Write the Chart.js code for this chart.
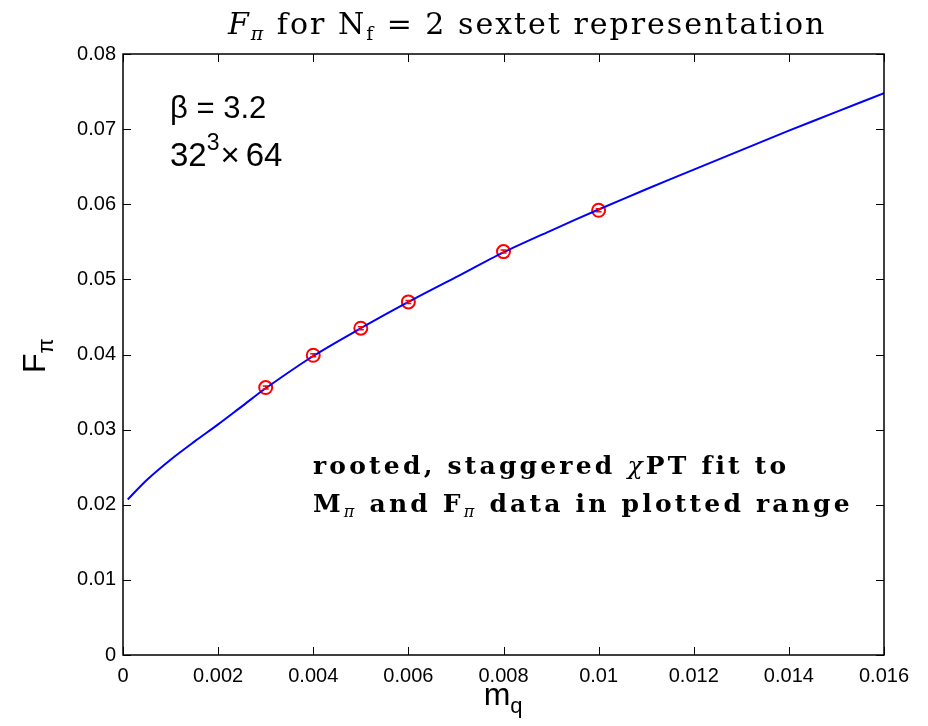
<!DOCTYPE html>
<html>
<head>
<meta charset="utf-8">
<script src="https://cdn.jsdelivr.net/npm/chart.js@4.4.0/dist/chart.umd.min.js"></script>
<style>
  html, body { margin: 0; padding: 0; background: #fff; }
  #wrap { width: 928px; height: 726px; }
</style>
</head>
<body>
<div id="wrap"><canvas id="chart" width="928" height="726"></canvas></div>
<script>
// measured F_pi vs quark mass
const mq = [0.003, 0.004, 0.005, 0.006, 0.008, 0.010];
const fpi = [0.0356, 0.0399, 0.0435, 0.0470, 0.0537, 0.0592];
const fpiErr = [0.0002, 0.0002, 0.0002, 0.0002, 0.0002, 0.0002];

// chiPT fit curve
const fitX = [0.0001, 0.0005, 0.001, 0.0015, 0.002, 0.0025, 0.003, 0.004, 0.005, 0.006,
  0.007, 0.008, 0.009, 0.010, 0.011, 0.012, 0.013, 0.014, 0.015, 0.016];
const fitY = [0.0207, 0.0233, 0.0260, 0.0284, 0.0307, 0.0331, 0.0355, 0.0398, 0.0435, 0.0470,
  0.0503, 0.0536, 0.0565, 0.0593, 0.0620, 0.0646, 0.0672, 0.0698, 0.0723, 0.0748];

const xTicks = [0, 0.002, 0.004, 0.006, 0.008, 0.010, 0.012, 0.014, 0.016];
const yTicks = [0, 0.01, 0.02, 0.03, 0.04, 0.05, 0.06, 0.07, 0.08];

const SANS = "'Liberation Sans', Arial, sans-serif";
const SERIF = "'DejaVu Serif', serif";

// draw a run of text pieces: [text, font, dy]
function richText(ctx, x, y, parts, spacing) {
  let cx = x;
  ctx.letterSpacing = (spacing || 0) + "px";
  for (const p of parts) {
    ctx.font = p[1];
    ctx.fillText(p[0], cx, y + (p[2] || 0));
    cx += ctx.measureText(p[0]).width + (p[3] || 0);
  }
  ctx.letterSpacing = "0px";
  return cx - x;
}

const decor = {
  id: "decor",
  afterDraw(chart) {
    const ctx = chart.ctx;
    const a = chart.chartArea;
    const xs = chart.scales.x, ys = chart.scales.y;
    ctx.save();
    ctx.strokeStyle = "#000";
    ctx.lineWidth = 1.5;
    ctx.strokeRect(a.left, a.top, a.right - a.left, a.bottom - a.top);
    ctx.lineWidth = 1;
    ctx.beginPath();
    for (const v of xTicks) {
      const px = Math.round(xs.getPixelForValue(v)) + 0.5;
      ctx.moveTo(px, a.bottom); ctx.lineTo(px, a.bottom - 8);
      ctx.moveTo(px, a.top); ctx.lineTo(px, a.top + 8);
    }
    for (const v of yTicks) {
      const py = Math.round(ys.getPixelForValue(v)) + 0.5;
      ctx.moveTo(a.left, py); ctx.lineTo(a.left + 8, py);
      ctx.moveTo(a.right, py); ctx.lineTo(a.right - 8, py);
    }
    ctx.stroke();

    // error bars inside markers
    ctx.strokeStyle = "#ff0000";
    ctx.lineWidth = 1.5;
    ctx.beginPath();
    mq.forEach((m, i) => {
      const px = xs.getPixelForValue(m);
      const y1 = ys.getPixelForValue(fpi[i] - fpiErr[i]);
      const y2 = ys.getPixelForValue(fpi[i] + fpiErr[i]);
      ctx.moveTo(px, y1); ctx.lineTo(px, y2);
      ctx.moveTo(px - 3, y1); ctx.lineTo(px + 3, y1);
      ctx.moveTo(px - 3, y2); ctx.lineTo(px + 3, y2);
    });
    ctx.stroke();

    ctx.fillStyle = "#000";
    ctx.textBaseline = "alphabetic";
    ctx.textAlign = "left";

    // title
    richText(ctx, 228, 34, [
      ["F", "italic 30px " + SERIF],
      ["\u03c0", "italic 19px " + SERIF, 6],
      [" for N", "30px " + SERIF],
      ["f", "19px " + SERIF, 6],
      [" = 2 sextet representation", "30px " + SERIF]
    ], 2);

    // beta and volume
    richText(ctx, 170, 118, [["\u03b2 = 3.2", "31px " + SANS]]);
    richText(ctx, 170, 166, [
      ["32", "33px " + SANS, 0, 0],
      ["3", "23px " + SANS, -16, 1],
      ["\u00d7", "33px " + SANS, 0, 6],
      ["64", "33px " + SANS]
    ]);

    // fit note
    richText(ctx, 313, 474, [
      ["rooted, staggered ", "bold 25px " + SERIF],
      ["\u03c7", "italic 25px " + SERIF],
      ["PT fit to", "bold 25px " + SERIF]
    ], 3.2);
    richText(ctx, 313, 512, [
      ["M", "bold 25px " + SERIF],
      ["\u03c0", "italic 16px " + SERIF, 5],
      [" and F", "bold 25px " + SERIF],
      ["\u03c0", "italic 16px " + SERIF, 5],
      [" data in plotted range", "bold 25px " + SERIF]
    ], 3.2);

    // x axis title
    ctx.font = "32px " + SANS;
    const w = ctx.measureText("m").width + 12;
    richText(ctx, 503 - w / 2, 705, [["m", "32px " + SANS], ["q", "22px " + SANS, 8]]);

    // y axis title
    ctx.translate(45, 355);
    ctx.rotate(-Math.PI / 2);
    richText(ctx, -18, 0, [["F", "32px " + SANS], ["\u03c0", "22px " + SANS, 8]]);
    ctx.restore();
  }
};

new Chart(document.getElementById("chart"), {
  type: "scatter",
  data: {
    datasets: [
      {
        label: "fit",
        type: "line",
        data: fitX.map((x, i) => ({ x: x, y: fitY[i] })),
        borderColor: "#0000ff",
        borderWidth: 2,
        pointRadius: 0,
        fill: false,
        tension: 0.3
      },
      {
        label: "data",
        data: mq.map((x, i) => ({ x: x, y: fpi[i] })),
        borderColor: "#ff0000",
        backgroundColor: "rgba(0,0,0,0)",
        borderWidth: 2,
        pointRadius: 6.5,
        pointStyle: "circle"
      }
    ]
  },
  options: {
    responsive: false,
    animation: false,
    layout: { padding: { left: 0, top: 54, right: 44, bottom: 0 } },
    plugins: {
      legend: { display: false },
      tooltip: { enabled: false }
    },
    scales: {
      x: {
        type: "linear",
        min: 0,
        max: 0.016,
        afterBuildTicks: s => { s.ticks = xTicks.map(v => ({ value: v })); },
        afterFit: s => { s.height = 71; },
        grid: { display: false, drawTicks: false },
        border: { display: false },
        ticks: {
          padding: 9,
          color: "#000",
          font: { family: SANS, size: 20 },
          callback: v => String(+v.toFixed(3))
        }
      },
      y: {
        type: "linear",
        min: 0,
        max: 0.08,
        afterBuildTicks: s => { s.ticks = yTicks.map(v => ({ value: v })); },
        afterFit: s => { s.width = 123; },
        grid: { display: false, drawTicks: false },
        border: { display: false },
        ticks: {
          padding: 7,
          color: "#000",
          font: { family: SANS, size: 20 },
          callback: v => String(+v.toFixed(2))
        }
      }
    }
  },
  plugins: [decor]
});
</script>
</body>
</html>
